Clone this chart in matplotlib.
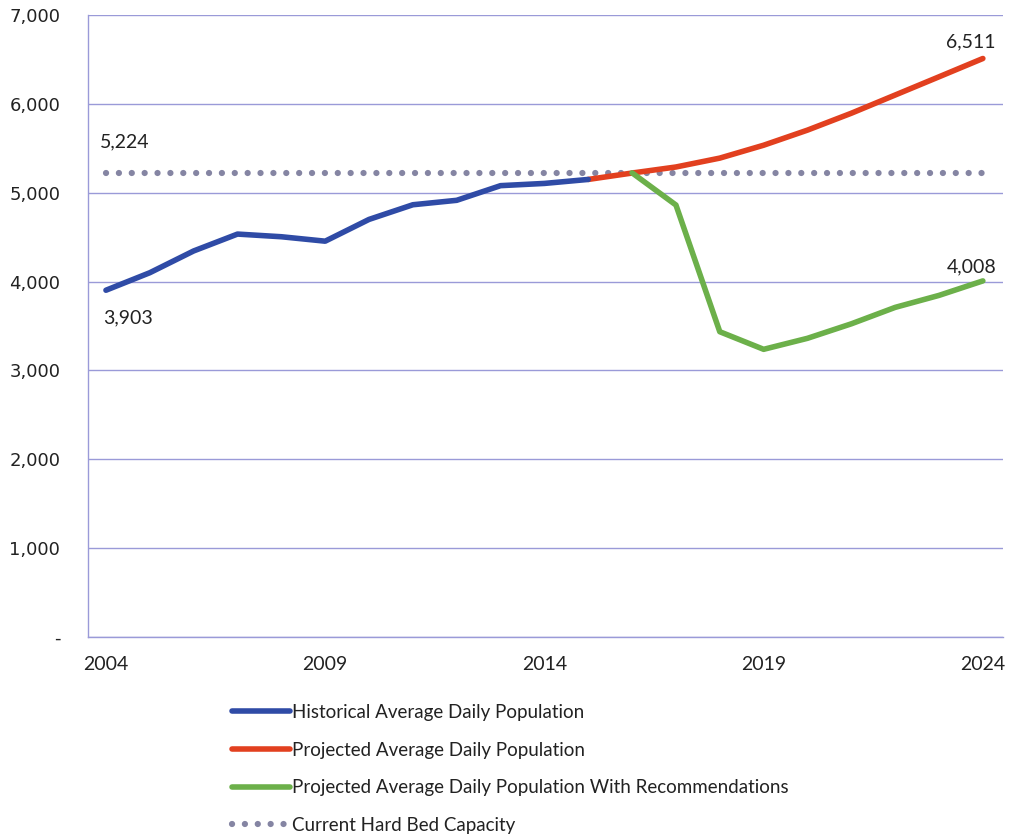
import matplotlib.pyplot as plt
from matplotlib.ticker import FuncFormatter

# data
hist_years = [2004, 2005, 2006, 2007, 2008, 2009, 2010, 2011, 2012, 2013, 2014, 2015]
hist_pop = [3903, 4100, 4345, 4535, 4505, 4455, 4700, 4865, 4915, 5080, 5105, 5150]

proj_years = [2015, 2016, 2017, 2018, 2019, 2020, 2021, 2022, 2023, 2024]
proj_pop = [5150, 5222, 5290, 5390, 5535, 5705, 5895, 6100, 6305, 6511]

rec_years = [2016, 2017, 2018, 2019, 2020, 2021, 2022, 2023, 2024]
rec_pop = [5224, 4862, 3436, 3238, 3362, 3525, 3710, 3845, 4008]

cap_years = [2004, 2024]
cap_value = 5224

y_ticks = [0, 1000, 2000, 3000, 4000, 5000, 6000, 7000]
x_ticks = [2004, 2009, 2014, 2019, 2024]

labels = [
    "Historical Average Daily Population",
    "Projected Average Daily Population",
    "Projected Average Daily Population With Recommendations",
    "Current Hard Bed Capacity",
]

plt.rcParams['font.family'] = ['Lato', 'DejaVu Sans']
text_color = '#222222'
grid_color = '#9a9ad8'

fig = plt.figure(figsize=(10.1, 8.36), dpi=100)
ax = fig.add_axes([0.0871, 0.238, 0.906, 0.744])

l_cap, = ax.plot(cap_years, [cap_value] * len(cap_years), color='#8585a3',
                 linewidth=4.5, linestyle=(0, (0.01, 2.05)), dash_capstyle='round',
                 solid_capstyle='round', zorder=2)
l_hist, = ax.plot(hist_years, hist_pop, color='#2f4ba6', linewidth=4, zorder=4,
                  solid_joinstyle='round', solid_capstyle='round')
l_proj, = ax.plot(proj_years, proj_pop, color='#e2401f', linewidth=4, zorder=3,
                  solid_joinstyle='round', solid_capstyle='round')
l_rec, = ax.plot(rec_years, rec_pop, color='#6cb04a', linewidth=4, zorder=3,
                 solid_joinstyle='round', solid_capstyle='round')

# data labels
lbl_size = 14
ax.annotate(f"{cap_value:,}", (cap_years[0], cap_value), xytext=(-4, 16),
            textcoords='offset points', fontsize=lbl_size, color=text_color, ha='left', va='bottom')
ax.annotate(f"{hist_pop[0]:,}", (hist_years[0], hist_pop[0]), xytext=(-2, -14),
            textcoords='offset points', fontsize=lbl_size, color=text_color, ha='left', va='top')
ax.annotate(f"{proj_pop[-1]:,}", (proj_years[-1], proj_pop[-1]), xytext=(-9, 6),
            textcoords='offset points', fontsize=lbl_size, color=text_color, ha='center', va='bottom')
ax.annotate(f"{rec_pop[-1]:,}", (rec_years[-1], rec_pop[-1]), xytext=(-8, 4),
            textcoords='offset points', fontsize=lbl_size, color=text_color, ha='center', va='bottom')

ax.set_xlim(2003.59, 2024.46)
ax.set_ylim(0, 7000)
ax.set_yticks(y_ticks)
ax.yaxis.set_major_formatter(FuncFormatter(lambda v, p: '-' if v == 0 else f"{int(v):,}"))
ax.set_xticks(x_ticks)
ax.grid(axis='y', color=grid_color, linewidth=1)
ax.set_axisbelow(True)
for side in ['top', 'right']:
    ax.spines[side].set_visible(False)
for side in ['left', 'bottom']:
    ax.spines[side].set_color(grid_color)
    ax.spines[side].set_linewidth(1)
ax.tick_params(length=0, labelcolor=text_color)
ax.tick_params(axis='y', pad=20, labelsize=13)
ax.tick_params(axis='x', pad=14, labelsize=14)
for lbl in ax.get_yticklabels():
    lbl.set_fontfamily(['DejaVu Sans'])

fig.legend([l_hist, l_proj, l_rec, l_cap], labels, loc='upper left',
           bbox_to_anchor=(0.222, 0.167), frameon=False, fontsize=13.5,
           handlelength=3.1, handletextpad=0.1, labelspacing=1.1,
           labelcolor=text_color, borderaxespad=0)

plt.savefig('out.png', dpi=100)
